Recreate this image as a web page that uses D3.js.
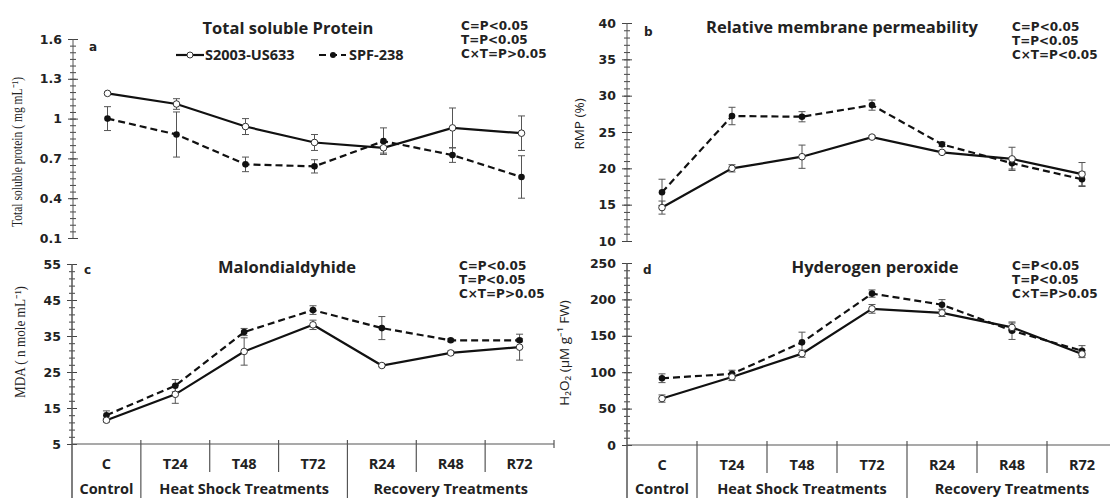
<!DOCTYPE html>
<html>
<head>
<meta charset="utf-8">
<script src="https://cdn.jsdelivr.net/npm/d3@7"></script>
<style>
  body { margin: 0; background: #fff; }
  svg text { fill: #222; }
  .tick text { font-family: "DejaVu Sans", sans-serif; font-weight: bold; font-size: 12.5px; }
  .title { font-family: "Open Sans", sans-serif; font-weight: bold; font-size: 16.5px; }
  .stats { font-family: "DejaVu Sans", sans-serif; font-weight: bold; font-size: 12px; }
  .cat { font-family: "Open Sans", sans-serif; font-weight: bold; font-size: 14.5px; }
  .plab { font-family: "DejaVu Sans", sans-serif; font-weight: bold; font-size: 12px; }
</style>
</head>
<body>
<svg width="1110" height="498"></svg>
<script>
// chart values

const categories = ['C', 'T24', 'T48', 'T72', 'R24', 'R48', 'R72'];
const groupNames = ['Control', 'Heat Shock Treatments', 'Recovery Treatments'];
const groupSizes = [1, 3, 3];
const seriesNames = ['S2003-US633', 'SPF-238'];

// a: total soluble protein
const protTicks = [0.1, 0.4, 0.7, 1, 1.3, 1.6];
const protS = [1.19, 1.11, 0.94, 0.82, 0.78, 0.93, 0.89];
const protSErr = [0.01, 0.04, 0.06, 0.06, 0.04, 0.15, 0.13];
const protP = [1.0, 0.88, 0.655, 0.64, 0.83, 0.725, 0.56];
const protPErr = [0.09, 0.17, 0.055, 0.05, 0.1, 0.055, 0.16];
const statsA = ['C=P<0.05', 'T=P<0.05', 'C×T=P>0.05'];

// b: relative membrane permeability
const rmpTicks = [10, 15, 20, 25, 30, 35, 40];
const rmpS = [14.6, 20.0, 21.6, 24.3, 22.2, 21.3, 19.2];
const rmpSErr = [0.9, 0.5, 1.6, 0.2, 0.2, 1.6, 1.6];
const rmpP = [16.7, 27.2, 27.1, 28.7, 23.3, 20.7, 18.5];
const rmpPErr = [1.8, 1.2, 0.7, 0.7, 0.3, 0.8, 1.0];
const statsB = ['C=P<0.05', 'T=P<0.05', 'C×T=P<0.05'];

// c: malondialdehyde
const mdaTicks = [5, 15, 25, 35, 45, 55];
const mdaS = [11.6, 18.8, 30.7, 38.1, 26.8, 30.3, 31.9];
const mdaSErr = [0.5, 2.5, 3.8, 1.3, 0.3, 0.5, 3.6];
const mdaP = [13.0, 21.2, 36.1, 42.2, 37.2, 33.8, 33.8];
const mdaPErr = [1.2, 1.7, 1.0, 1.2, 3.2, 0.4, 0.4];
const statsC = ['C=P<0.05', 'T=P<0.05', 'C×T=P>0.05'];

// d: hydrogen peroxide
const h2o2Ticks = [0, 50, 100, 150, 200, 250];
const h2o2S = [63.8, 93.5, 125.5, 187, 181.5, 161.5, 125];
const h2o2SErr = [5, 5, 5, 6, 5, 6, 5];
const h2o2P = [91.7, 97.7, 141, 208, 192.7, 157, 129.5];
const h2o2PErr = [6, 5, 14, 5, 7, 12, 7];
const statsD = ['C=P<0.05', 'T=P<0.05', 'C×T=P>0.05'];

const svg = d3.select('svg');

const panels = [
  { tag: 'a', title: 'Total soluble Protein', ticks: protTicks, minor: 0.05,
    s: protS, sErr: protSErr, p: protP, pErr: protPErr, stats: statsA,
    x0: 73, x1: 556, yTop: 39, yBot: 238, xAxis: false,
    titleX: 288, titleY: 34, statsX: 461, statsY: 30, tagX: 89, tagY: 51,
    ylab: 'Total  soluble protein ( mg mL⁻¹)', ylabX: 22, ylabY: 152, ylabLen: 150, serif: true },
  { tag: 'b', title: 'Relative membrane  permeability', ticks: rmpTicks, minor: 1,
    s: rmpS, sErr: rmpSErr, p: rmpP, pErr: rmpPErr, stats: statsB,
    x0: 627, x1: 1117, yTop: 23, yBot: 241, xAxis: false,
    titleX: 842, titleY: 33, statsX: 1012, statsY: 31, tagX: 644, tagY: 36,
    ylab: 'RMP (%)', ylabX: 584, ylabY: 124, serif: false },
  { tag: 'c', title: 'Malondialdyhide', ticks: mdaTicks, minor: 2,
    s: mdaS, sErr: mdaSErr, p: mdaP, pErr: mdaPErr, stats: statsC,
    x0: 72, x1: 554, yTop: 264, yBot: 444, xAxis: true,
    titleX: 287, titleY: 273, statsX: 459, statsY: 269.5, tagX: 84, tagY: 274,
    ylab: 'MDA  ( n mole mL⁻¹)', ylabX: 25, ylabY: 342, ylabLen: 112, serif: true },
  { tag: 'd', title: 'Hyderogen peroxide', ticks: h2o2Ticks, minor: 10,
    s: h2o2S, sErr: h2o2SErr, p: h2o2P, pErr: h2o2PErr, stats: statsD,
    x0: 627, x1: 1117, yTop: 263, yBot: 445, xAxis: true,
    titleX: 875, titleY: 273, statsX: 1012, statsY: 269.5, tagX: 643, tagY: 274,
    ylab: 'H₂O₂ (µM g⁻¹ FW)', ylabX: 569, ylabY: 353, serif: false }
];

panels.forEach(drawPanel);

function drawPanel(cfg) {
  const g = svg.append('g');
  const lo = cfg.ticks[0], hi = cfg.ticks[cfg.ticks.length - 1];

  const x = d3.scaleBand().domain(categories).range([cfg.x0, cfg.x1]);
  const y = d3.scaleLinear().domain([lo, hi]).range([cfg.yBot, cfg.yTop]);
  const cx = c => x(c) + x.bandwidth() / 2;

  // y axis: major ticks cross the line, minor ticks are shorter
  const minors = d3.range(lo, hi + cfg.minor / 2, cfg.minor);
  g.append('g')
    .attr('transform', 'translate(' + cfg.x0 + ',0)')
    .call(d3.axisRight(y).tickValues(minors).tickSize(3).tickFormat(''))
    .call(a => a.select('.domain').remove());
  g.append('g')
    .attr('transform', 'translate(' + cfg.x0 + ',0)')
    .call(d3.axisLeft(y).tickValues(minors).tickSize(3).tickFormat(''))
    .call(a => a.select('.domain').remove());
  g.append('g')
    .attr('transform', 'translate(' + cfg.x0 + ',0)')
    .call(d3.axisRight(y).tickValues(cfg.ticks).tickSize(5).tickFormat(''))
    .call(a => a.select('.domain').remove());
  g.append('g')
    .attr('transform', 'translate(' + cfg.x0 + ',0)')
    .call(d3.axisLeft(y).tickValues(cfg.ticks).tickSize(5).tickPadding(6).tickFormat(d3.format('~g')))
    .call(a => a.select('.domain').remove());
  g.selectAll('.tick line').attr('stroke', '#444');

  g.append('line')
    .attr('x1', cfg.x0).attr('x2', cfg.x0)
    .attr('y1', cfg.yTop).attr('y2', cfg.xAxis ? 498 : cfg.yBot)
    .attr('stroke', '#555').attr('stroke-width', cfg.xAxis ? 1.5 : 1);

  if (cfg.xAxis) drawCategoryAxis(g, x, cfg);

  // titles and notes
  g.append('text').attr('class', 'title')
    .attr('x', cfg.titleX).attr('y', cfg.titleY)
    .attr('text-anchor', 'middle').text(cfg.title);
  g.append('text').attr('class', 'plab')
    .attr('x', cfg.tagX).attr('y', cfg.tagY).text(cfg.tag);
  g.selectAll('.stat').data(cfg.stats).join('text')
    .attr('class', 'stats')
    .attr('x', cfg.statsX)
    .attr('y', (d, i) => cfg.statsY + i * 14)
    .text(d => d);

  const yl = g.append('text')
    .attr('transform', 'translate(' + cfg.ylabX + ',' + cfg.ylabY + ') rotate(-90)')
    .attr('text-anchor', 'middle')
    .style('font-family', cfg.serif ? '"Liberation Serif", serif' : '"Open Sans", sans-serif')
    .style('font-size', cfg.serif ? '14px' : '13.5px')
    .text(cfg.ylab);
  if (cfg.ylabLen) yl.attr('textLength', cfg.ylabLen).attr('lengthAdjust', 'spacingAndGlyphs');

  // error bars
  const bars = [
    { v: cfg.p, e: cfg.pErr },
    { v: cfg.s, e: cfg.sErr }
  ];
  bars.forEach(b => {
    categories.forEach((c, i) => {
      const top = y(b.v[i] + b.e[i]), bot = y(b.v[i] - b.e[i]);
      g.append('line').attr('x1', cx(c)).attr('x2', cx(c)).attr('y1', top).attr('y2', bot)
        .attr('stroke', '#555').attr('stroke-width', 1);
      [top, bot].forEach(yy => {
        g.append('line').attr('x1', cx(c) - 3.5).attr('x2', cx(c) + 3.5).attr('y1', yy).attr('y2', yy)
          .attr('stroke', '#555').attr('stroke-width', 1);
      });
    });
  });

  const line = d3.line().x((d, i) => cx(categories[i])).y(d => y(d));

  g.append('path').datum(cfg.p).attr('d', line)
    .attr('fill', 'none').attr('stroke', '#111').attr('stroke-width', 2.2)
    .attr('stroke-dasharray', '7,4');
  g.append('path').datum(cfg.s).attr('d', line)
    .attr('fill', 'none').attr('stroke', '#111').attr('stroke-width', 2.2);

  g.selectAll('.ptP').data(cfg.p).join('circle')
    .attr('cx', (d, i) => cx(categories[i])).attr('cy', d => y(d)).attr('r', 3.3)
    .attr('fill', '#111');
  g.selectAll('.ptS').data(cfg.s).join('circle')
    .attr('cx', (d, i) => cx(categories[i])).attr('cy', d => y(d)).attr('r', 3.3)
    .attr('fill', '#fff').attr('stroke', '#333').attr('stroke-width', 1);

  if (cfg.tag === 'a') drawLegend(g);
}

function drawCategoryAxis(g, x, cfg) {
  const yb = cfg.yBot;
  const bw = x.bandwidth();
  g.append('line').attr('x1', cfg.x0).attr('x2', cfg.x1).attr('y1', yb).attr('y2', yb)
    .attr('stroke', '#555').attr('stroke-width', 1.2);

  // group boundaries run to the bottom edge
  const groupEdges = d3.cumsum(groupSizes);
  categories.forEach((c, i) => {
    if (i === 0) return;
    const xx = x(c);
    const full = groupEdges.includes(i);
    g.append('line').attr('x1', xx).attr('x2', xx)
      .attr('y1', yb - 4).attr('y2', full ? 498 : yb + 28)
      .attr('stroke', '#555').attr('stroke-width', 1.2);
  });
  g.append('line').attr('x1', cfg.x1).attr('x2', cfg.x1)
    .attr('y1', yb - 4).attr('y2', yb + 4)
    .attr('stroke', '#555').attr('stroke-width', 1.2);

  g.selectAll('.catlab').data(categories).join('text')
    .attr('class', 'cat')
    .attr('x', c => x(c) + bw / 2).attr('y', yb + 24.5)
    .attr('text-anchor', 'middle').text(c => c);

  let start = 0;
  groupNames.forEach((name, k) => {
    const mid = x(categories[start]) + groupSizes[k] * bw / 2;
    g.append('text').attr('class', 'cat')
      .attr('x', mid).attr('y', 494)
      .attr('text-anchor', 'middle').text(name);
    start += groupSizes[k];
  });
}

function drawLegend(g) {
  const ly = 55;
  const lg = g.append('g').style('font-family', '"Open Sans", sans-serif')
    .style('font-weight', 'bold').style('font-size', '14.5px');
  lg.append('line').attr('x1', 176).attr('x2', 204).attr('y1', ly).attr('y2', ly)
    .attr('stroke', '#111').attr('stroke-width', 2.2);
  lg.append('circle').attr('cx', 190).attr('cy', ly).attr('r', 3)
    .attr('fill', '#fff').attr('stroke', '#333');
  lg.append('text').attr('x', 205).attr('y', ly + 5).text(seriesNames[0]);
  lg.append('line').attr('x1', 319).attr('x2', 346).attr('y1', ly).attr('y2', ly)
    .attr('stroke', '#111').attr('stroke-width', 2.2).attr('stroke-dasharray', '7,4');
  lg.append('circle').attr('cx', 333).attr('cy', ly).attr('r', 3).attr('fill', '#111');
  lg.append('text').attr('x', 349).attr('y', ly + 5).text(seriesNames[1]);
}
</script>
</body>
</html>
